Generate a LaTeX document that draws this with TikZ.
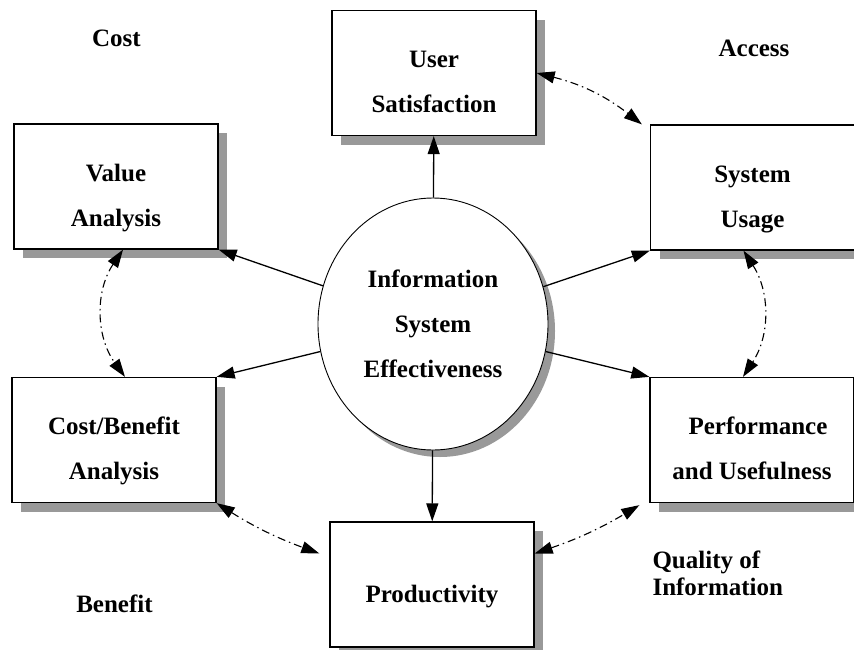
\documentclass[tikz,border=0pt]{standalone}
\usepackage{fontspec}
\setmainfont{Liberation Serif}
\usetikzlibrary{shapes.geometric,shadows,arrows.meta}
\tikzset{
  every node/.style={font=\bfseries\fontsize{25}{45}\selectfont},
  measure/.style={draw, line width=1.3pt, fill=white, minimum width=204pt,
    minimum height=125pt, inner sep=0pt, align=center,
    text height=79pt, text depth=0pt,
    drop shadow={shadow xshift=9pt, shadow yshift=-9pt, fill=black!40, opacity=1}},
  hub/.style={ellipse, draw, line width=0.9pt, fill=white, minimum width=230pt,
    minimum height=252pt, inner sep=0pt, align=center,
    drop shadow={shadow xshift=7pt, shadow yshift=-7pt, fill=black!40, opacity=1}},
  feeds/.style={-{Triangle[length=18pt,width=12pt]}, line width=1.3pt},
  pairs/.style={{Triangle[length=18pt,width=12pt]}-{Triangle[length=18pt,width=12pt]},
    line width=1.1pt, dash pattern=on 8pt off 4pt on 1.5pt off 4pt},
  facet/.style={anchor=base}}

\begin{document}
\begin{tikzpicture}[x=1pt, y=-1pt]
  \useasboundingbox (0,0) rectangle (854,649);
  \node[hub]     (ise) at (433,324)   {Information\\System\\Effectiveness};
  \node[measure] (us)  at (434,73)    {User\\Satisfaction};
  \node[measure] (va)  at (116,186.5) {Value\\Analysis};
  \node[measure] (su)  at (752.5,187.5) {System\\Usage};
  \node[measure] (pu)  at (752,440)   {\hspace*{12pt}Performance\\and Usefulness};
  \node[measure] (cb)  at (114,440)   {Cost/Benefit\\Analysis};
  \node[measure, text height=35pt] (pr) at (432,584.5) {Productivity};
  % dimension labels
  \node[facet] (cost)    at (116.5,46) {Cost};
  \node[facet] (access)  at (754,56)   {Access};
  \node[facet] (benefit) at (114.5,612) {Benefit};
  \node[anchor=base west, align=left, font=\bfseries\fontsize{25}{27}\selectfont]
    (quality) at (649,595) {Quality of\\Information};
  % effectiveness to measures
  \draw[feeds] (ise) -- (us);
  \draw[feeds] (ise) -- (va.south east);
  \draw[feeds] (ise) -- (cb.north east);
  \draw[feeds] (ise) -- (su.south west);
  \draw[feeds] (ise) -- (pu.north west);
  \draw[feeds] (ise) -- (pr);
  % links between measures
  \draw[pairs] (us.east) to[bend left=12] ([xshift=-8pt]su.north west);
  \draw[pairs] ([xshift=7pt]va.south) to[bend right=35] ([xshift=11pt]cb.north);
  \draw[pairs] ([xshift=-9pt]su.south) to[bend left=33] ([xshift=-9pt]pu.north);
  \draw[pairs] (cb.south east) to[bend right=6] ([xshift=-10pt,yshift=31pt]pr.west);
  \draw[pairs] ([yshift=31pt]pr.east) to[bend right=6] ([xshift=-10pt,yshift=-2pt]pu.south west);
\end{tikzpicture}
\end{document}
